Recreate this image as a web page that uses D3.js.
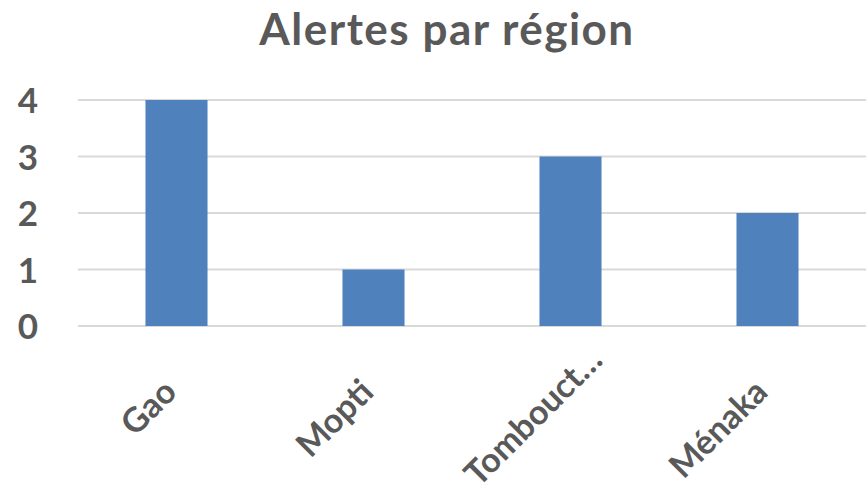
<!DOCTYPE html>
<html>
<head>
<meta charset="utf-8">
<script src="https://cdn.jsdelivr.net/npm/d3@7"></script>
<style>
  body { margin: 0; background: #fff; }
  text { font-family: Lato, "Open Sans", sans-serif; font-weight: bold; fill: #595959; }
</style>
</head>
<body>
<script>
const regions = ['Gao', 'Mopti', 'Tombouct…', 'Ménaka']
const alertes = [4, 1, 3, 2]
const yTicks = [0, 1, 2, 3, 4]

const width = 866
const height = 495
const margin = { top: 100, right: 0, bottom: 169, left: 78 }

const svg = d3.select('body').append('svg')
  .attr('width', width)
  .attr('height', height)

svg.append('text')
  .attr('x', 447)
  .attr('y', 45)
  .attr('text-anchor', 'middle')
  .style('font-size', '44px')
  .style('letter-spacing', '1.5px')
  .text('Alertes par région')

const xScale = d3.scaleBand()
  .domain(regions)
  .range([margin.left, width - margin.right])
  .paddingInner(0.685)
  .paddingOuter(0.3425)

const yScale = d3.scaleLinear()
  .domain([0, 4])
  .range([height - margin.bottom, margin.top])

// gridlines
svg.append('g')
  .selectAll('line')
  .data(yTicks)
  .join('line')
  .attr('x1', margin.left)
  .attr('x2', width - margin.right)
  .attr('y1', d => yScale(d))
  .attr('y2', d => yScale(d))
  .attr('stroke', '#d9d9d9')
  .attr('stroke-width', 2)

// bars
svg.append('g')
  .selectAll('rect')
  .data(regions)
  .join('rect')
  .attr('x', d => xScale(d))
  .attr('width', xScale.bandwidth())
  .attr('y', (d, i) => yScale(alertes[i]))
  .attr('height', (d, i) => yScale(0) - yScale(alertes[i]))
  .attr('fill', '#4f81bd')

// y axis
const yAxis = svg.append('g')
  .attr('transform', `translate(${margin.left - 40}, 0)`)
  .call(d3.axisLeft(yScale).tickValues(yTicks).tickSize(0).tickPadding(0).tickFormat(d3.format('d')))
yAxis.select('.domain').remove()
yAxis.selectAll('text')
  .style('font-size', '35px')
  .attr('fill', '#595959')
  .attr('dy', '0.36em')

// x axis, labels rotated -45deg, slid up along their direction if they overflow
const xAxis = svg.append('g')
  .attr('transform', `translate(0, ${yScale(0)})`)
  .call(d3.axisBottom(xScale).tickSize(0).tickPadding(0))
xAxis.select('.domain').remove()

const labelOffset = { x: 2, y: 68 }
const bottomLimit = height - 2 - yScale(0)
const k = Math.SQRT1_2

xAxis.selectAll('text')
  .style('font-size', '34px')
  .attr('fill', '#595959')
  .attr('text-anchor', 'end')
  .attr('dy', 0)
  .each(function () {
    const len = this.getComputedTextLength()
    const descent = 34 * 0.22
    const bottom = labelOffset.y + len * k + descent * k
    let slide = 0
    if (bottom > bottomLimit) slide = (bottom - bottomLimit) / k
    const ex = labelOffset.x + slide * k
    const ey = labelOffset.y - slide * k
    d3.select(this).attr('transform', `translate(${ex}, ${ey}) rotate(-45)`)
  })
</script>
</body>
</html>
